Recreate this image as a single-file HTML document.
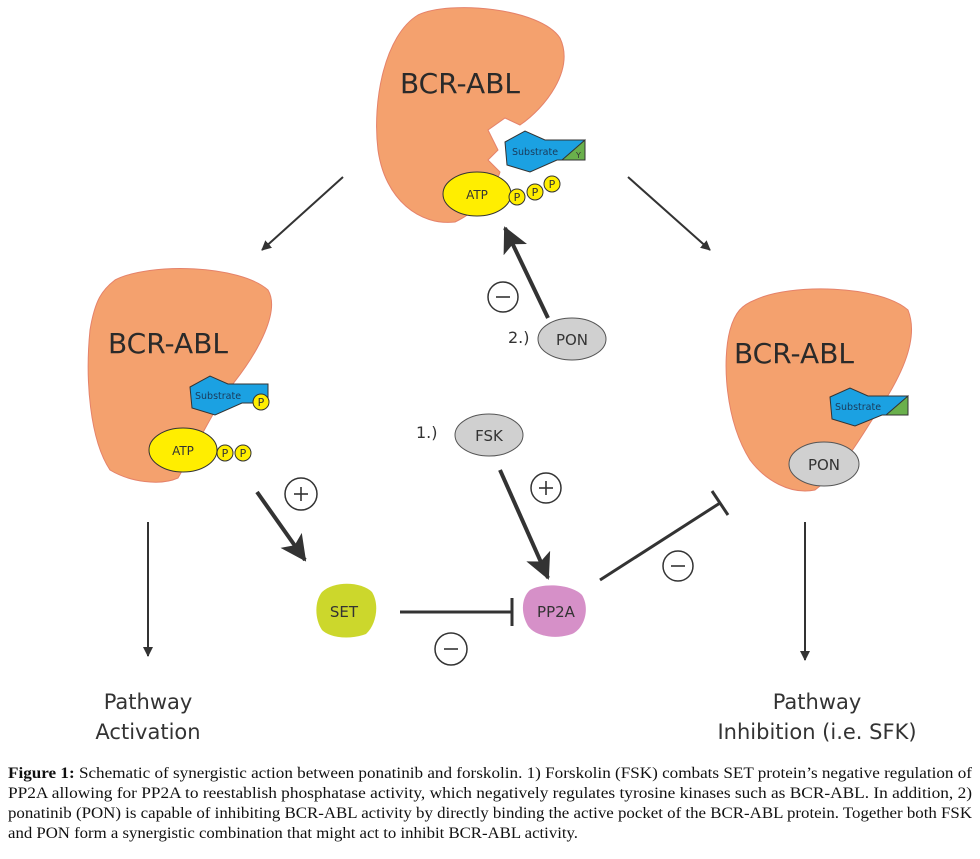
<!DOCTYPE html>
<html><head><meta charset="utf-8"><style>
html,body{margin:0;padding:0;background:#fff;}
svg{display:block;}
</style></head><body>
<svg width="980" height="859" viewBox="0 0 980 859" xmlns="http://www.w3.org/2000/svg" font-family="'DejaVu Sans','Liberation Sans',sans-serif">
<defs>
<marker id="ah" markerWidth="10" markerHeight="10" refX="9" refY="5" orient="auto" markerUnits="userSpaceOnUse"><path d="M0,0 L10,5 L0,10 Z" fill="#333"/></marker>
<marker id="ahb" markerWidth="26" markerHeight="26" refX="24" refY="13" orient="auto" markerUnits="userSpaceOnUse"><path d="M0,0 L26,13 L0,26 L6,13 Z" fill="#333"/></marker>
</defs>
<path d="M418 15 C450 0,540 8,560 38 C575 70,545 108,520 125 L505 118 L488 130 L498 150 L488 160 L500 172 C495 190,480 210,455 222 C420 226,385 200,378 150 C372 100,385 35,418 15 Z" fill="#F4A16E" stroke="#e5826a" stroke-width="1"/>
<text x="460" y="93" font-size="28" fill="#2a2a2a" text-anchor="middle">BCR-ABL</text>
<polygon points="505,142 525,131 545,140 585,140 585,160 557,160 530,172 507,165" fill="#1BA1E2" stroke="#333" stroke-width="1"/>
<polygon points="562,160 585,140 585,160" fill="#6AB04C" stroke="#333" stroke-width="1"/>
<text x="512" y="155" font-size="9.5" fill="#1a3a5a">Substrate</text>
<text x="576" y="158" font-size="8" fill="#333">Y</text>
<ellipse cx="477" cy="194" rx="34" ry="22" fill="#FFEE00" stroke="#333" stroke-width="1"/>
<text x="477" y="199" font-size="12" text-anchor="middle" fill="#333">ATP</text>
<circle cx="517" cy="197" r="8" fill="#FFEE00" stroke="#333"/><text x="517" y="201" font-size="11" text-anchor="middle" fill="#333">P</text>
<circle cx="535" cy="192" r="8" fill="#FFEE00" stroke="#333"/><text x="535" y="196" font-size="11" text-anchor="middle" fill="#333">P</text>
<circle cx="552" cy="184" r="8" fill="#FFEE00" stroke="#333"/><text x="552" y="188" font-size="11" text-anchor="middle" fill="#333">P</text>
<path d="M115 280 C150 262,240 265,268 290 C280 310,260 350,232 385 C212 412,200 440,178 478 C160 486,130 482,110 470 C90 440,85 380,90 330 C95 300,102 290,115 280 Z" fill="#F4A16E" stroke="#e5826a"/>
<text x="168" y="353" font-size="28" fill="#2a2a2a" text-anchor="middle">BCR-ABL</text>
<polygon points="190,387 210,376 228,384 268,384 268,403 242,403 215,415 192,408" fill="#1BA1E2" stroke="#333"/>
<text x="195" y="399" font-size="9.5" fill="#1a3a5a">Substrate</text>
<circle cx="261" cy="402" r="8" fill="#FFEE00" stroke="#333"/><text x="261" y="406" font-size="11" text-anchor="middle" fill="#333">P</text>
<ellipse cx="183" cy="450" rx="34" ry="22" fill="#FFEE00" stroke="#333"/>
<text x="183" y="455" font-size="12" text-anchor="middle" fill="#333">ATP</text>
<circle cx="225" cy="453" r="8" fill="#FFEE00" stroke="#333"/><text x="225" y="457" font-size="11" text-anchor="middle" fill="#333">P</text>
<circle cx="243" cy="453" r="8" fill="#FFEE00" stroke="#333"/><text x="243" y="457" font-size="11" text-anchor="middle" fill="#333">P</text>
<path d="M755 300 C790 283,880 285,908 310 C920 340,900 380,872 420 C856 445,842 470,815 490 C790 495,765 480,750 460 C725 420,722 360,730 330 C735 312,742 305,755 300 Z" fill="#F4A16E" stroke="#e5826a"/>
<text x="794" y="363" font-size="28" fill="#2a2a2a" text-anchor="middle">BCR-ABL</text>
<polygon points="830,397 850,388 868,396 908,396 908,415 882,415 855,426 832,419" fill="#1BA1E2" stroke="#333"/>
<polygon points="886,415 908,396 908,415" fill="#6AB04C" stroke="#333"/>
<text x="835" y="410" font-size="9.5" fill="#1a3a5a">Substrate</text>
<ellipse cx="824" cy="464" rx="35" ry="22" fill="#D0D0D0" stroke="#555"/>
<text x="824" y="470" font-size="15" text-anchor="middle" fill="#333">PON</text>
<line x1="343" y1="177" x2="262" y2="250" stroke="#333" stroke-width="2" marker-end="url(#ah)"/>
<line x1="628" y1="177" x2="710" y2="250" stroke="#333" stroke-width="2" marker-end="url(#ah)"/>
<line x1="148" y1="522" x2="148" y2="656" stroke="#333" stroke-width="2" marker-end="url(#ah)"/>
<line x1="805" y1="522" x2="805" y2="660" stroke="#333" stroke-width="2" marker-end="url(#ah)"/>
<line x1="548" y1="318" x2="505" y2="228" stroke="#333" stroke-width="4" marker-end="url(#ahb)"/>
<line x1="257" y1="492" x2="305" y2="560" stroke="#333" stroke-width="4" marker-end="url(#ahb)"/>
<line x1="500" y1="470" x2="548" y2="578" stroke="#333" stroke-width="4" marker-end="url(#ahb)"/>
<line x1="400" y1="612" x2="512" y2="612" stroke="#333" stroke-width="3"/>
<line x1="512" y1="598" x2="512" y2="626" stroke="#333" stroke-width="3"/>
<line x1="600" y1="580" x2="720" y2="503" stroke="#333" stroke-width="3"/>
<line x1="712" y1="491" x2="728" y2="515" stroke="#333" stroke-width="3"/>
<text x="508" y="343" font-size="16" fill="#333">2.)</text>
<ellipse cx="572" cy="339" rx="34" ry="21" fill="#D0D0D0" stroke="#555"/>
<text x="572" y="345" font-size="15" text-anchor="middle" fill="#333">PON</text>
<text x="416" y="438" font-size="16" fill="#333">1.)</text>
<ellipse cx="489" cy="435" rx="34" ry="21" fill="#D0D0D0" stroke="#555"/>
<text x="489" y="441" font-size="15" text-anchor="middle" fill="#333">FSK</text>
<g fill="#fff" stroke="#333" stroke-width="1.5">
<circle cx="503" cy="297" r="15"/><circle cx="301" cy="494" r="16"/><circle cx="546" cy="488" r="15"/>
<circle cx="678" cy="566" r="15"/><circle cx="451" cy="649" r="16"/>
</g>
<g stroke="#333" stroke-width="1.6">
<line x1="496" y1="297" x2="510" y2="297"/>
<line x1="294" y1="494" x2="308" y2="494"/><line x1="301" y1="487" x2="301" y2="501"/>
<line x1="539" y1="488" x2="553" y2="488"/><line x1="546" y1="481" x2="546" y2="495"/>
<line x1="671" y1="566" x2="685" y2="566"/>
<line x1="444" y1="649" x2="458" y2="649"/>
</g>
<path d="M322 592 C335 580,362 582,372 592 C380 605,376 625,366 634 C350 640,330 638,322 630 C315 620,314 602,322 592 Z" fill="#CCD72C"/>
<text x="344" y="617" font-size="15" text-anchor="middle" fill="#333">SET</text>
<path d="M530 590 C545 582,572 585,582 595 C590 608,585 628,572 634 C555 640,535 636,528 626 C520 612,522 597,530 590 Z" fill="#D690C8"/>
<text x="556" y="617" font-size="15" text-anchor="middle" fill="#333">PP2A</text>
<text x="148" y="709" font-size="21" text-anchor="middle" fill="#333">Pathway</text>
<text x="148" y="739" font-size="21" text-anchor="middle" fill="#333">Activation</text>
<text x="817" y="709" font-size="21" text-anchor="middle" fill="#333">Pathway</text>
<text x="817" y="739" font-size="21" text-anchor="middle" fill="#333">Inhibition (i.e. SFK)</text>
<g font-family="'Liberation Serif',serif" font-size="16.2" fill="#111">
<text x="8" y="778" textLength="964" lengthAdjust="spacingAndGlyphs"><tspan font-weight="bold">Figure 1:</tspan> Schematic of synergistic action between ponatinib and forskolin. 1) Forskolin (FSK) combats SET protein’s negative regulation of</text>
<text x="8" y="798" textLength="964" lengthAdjust="spacingAndGlyphs">PP2A allowing for PP2A to reestablish phosphatase activity, which negatively regulates tyrosine kinases such as BCR-ABL. In addition, 2)</text>
<text x="8" y="818" textLength="964" lengthAdjust="spacingAndGlyphs">ponatinib (PON) is capable of inhibiting BCR-ABL activity by directly binding the active pocket of the BCR-ABL protein. Together both FSK</text>
<text x="8" y="838" textLength="570" lengthAdjust="spacingAndGlyphs">and PON form a synergistic combination that might act to inhibit BCR-ABL activity.</text>
</g>
</svg>
</body></html>
